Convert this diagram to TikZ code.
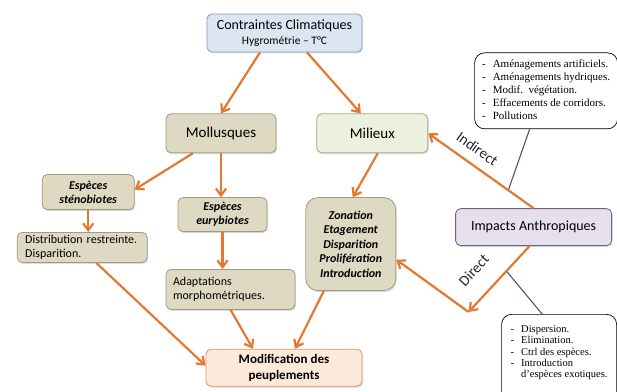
\documentclass[tikz,border=0pt]{standalone}
\usepackage{fontspec}
\setmainfont{Carlito}
\newfontfamily\notefont{Liberation Serif}
\usepackage{tikz}
\usetikzlibrary{arrows.meta,calc,positioning,shadows}

\definecolor{arrorange}{RGB}{228,120,48}
\definecolor{tanfill}{RGB}{221,217,195}
\definecolor{tandraw}{RGB}{160,155,128}
\definecolor{bluefill}{RGB}{220,230,242}
\definecolor{bluedraw}{RGB}{130,155,190}
\definecolor{greenfill}{RGB}{235,241,222}
\definecolor{greendraw}{RGB}{155,170,130}
\definecolor{lilacfill}{RGB}{229,224,236}
\definecolor{lilacdraw}{RGB}{110,100,130}
\definecolor{peachfill}{RGB}{253,233,217}
\definecolor{peachdraw}{RGB}{215,150,105}
\definecolor{calloutc}{RGB}{80,80,125}

\begin{document}
\begin{tikzpicture}[
  x=1pt, y=1pt,
  box/.style={draw, rounded corners=5pt, inner sep=2pt, align=center, line width=0.8pt,
    drop shadow={shadow xshift=1pt, shadow yshift=-1.5pt, opacity=0.25}},
  tanbox/.style={box, fill=tanfill, draw=tandraw},
  note/.style={draw, rounded corners=10pt, fill=white, line width=0.7pt, inner sep=0pt},
  arr/.style={-{Straight Barb[length=2.4mm,width=3.6mm]}, line width=2.2pt, draw=arrorange},
  link/.style={line width=1.1pt, draw=calloutc},
  lbl/.style={font=\fontsize{15pt}{17pt}\selectfont, sloped, text=black!85}
]
  \useasboundingbox (0,0) rectangle (617,391);

  \node[box, fill=bluefill, draw=bluedraw, minimum width=155pt, minimum height=38pt,
    font=\fontsize{14pt}{15pt}\selectfont] (clim) at (284.5,358)
    {Contraintes Climatiques\\{\fontsize{11.5pt}{13pt}\selectfont Hygrométrie -- T°C}};
  \node[tanbox, minimum width=110pt, minimum height=39pt, font=\fontsize{15pt}{18pt}\selectfont,
    below=61pt of clim, xshift=-63.5pt] (moll) {Mollusques};
  \node[box, fill=greenfill, draw=greendraw, minimum width=111pt, minimum height=39pt,
    font=\fontsize{15pt}{18pt}\selectfont, right=40pt of moll] (mil) {Milieux};
  \node[tanbox, minimum width=89pt, minimum height=34pt,
    font=\bfseries\itshape\fontsize{12pt}{14pt}\selectfont,
    below=44pt of moll, xshift=1.5pt] (eury) {Espèces\\eurybiotes};
  \node[tanbox, text width=115pt, inner xsep=7pt, minimum height=40pt, align=left,
    font=\fontsize{12pt}{13.5pt}\selectfont,
    below=37pt of eury, xshift=8pt] (adapt) {Adaptations\\morphométriques.};
  \node[tanbox, minimum width=92pt, minimum height=35pt,
    font=\bfseries\itshape\fontsize{12pt}{14pt}\selectfont,
    left=43pt of eury, yshift=22.5pt] (steno) {Espèces\\sténobiotes};
  \node[tanbox, text width=114pt, inner xsep=8pt, minimum height=30pt, align=left,
    font=\fontsize{12pt}{14pt}\selectfont,
    below=22pt of steno, xshift=-6pt] (dist) {Distribution restreinte.\\Disparition.};
  \node[tanbox, rounded corners=12pt, minimum width=90pt, minimum height=93pt,
    font=\bfseries\itshape\fontsize{12pt}{14.5pt}\selectfont,
    below=44pt of mil, xshift=-21.5pt] (zon)
    {Zonation\\Etagement\\Disparition\\Prolifération\\Introduction};
  \node[box, fill=lilacfill, draw=lilacdraw, minimum width=156pt, minimum height=37pt,
    font=\fontsize{14pt}{16pt}\selectfont,
    right=59pt of zon, yshift=17pt] (imp) {Impacts Anthropiques};
  \node[box, fill=peachfill, draw=peachdraw, minimum width=156pt, minimum height=37pt,
    font=\bfseries\fontsize{13pt}{16pt}\selectfont,
    below=39pt of adapt, xshift=53.5pt] (modif) {Modification des\\peuplements};

  % notes
  \node[note, minimum width=143pt, minimum height=76pt,
    font=\notefont\fontsize{11pt}{13pt}\selectfont,
    above=79pt of imp, xshift=12.5pt] (indir)
    {\begin{tabular}{@{}l@{\hspace{7pt}}l@{}}
      - & Aménagements artificiels.\\
      - & Aménagements hydriques.\\
      - & Modif.\ \ végétation.\\
      - & Effacements de corridors.\\
      - & Pollutions
    \end{tabular}};
  \node[note, minimum width=115pt, minimum height=92pt, anchor=north,
    font=\notefont\fontsize{10.5pt}{11.3pt}\selectfont]
    (dir) at ($(imp.south)+(25.5,-68)$)
    {\begin{tabular}{@{}l@{\hspace{7pt}}l@{}}
      - & Dispersion.\\
      - & Elimination.\\
      - & Ctrl des espèces.\\
      - & Introduction\\
        & d’espèces exotiques.\\[15pt]
    \end{tabular}};

  \coordinate (dvx) at ($(imp.south)+(-65,-66)$);
  \coordinate (ci) at ($(imp.north)!0.24!(mil.east)$);
  \coordinate (cd) at ($([xshift=-4pt]imp.south)!0.38!(dvx)$);

  \draw[link] (ci) -- ([xshift=-16.5pt]indir.south);
  \draw[link] (cd) -- ([xshift=-17pt]dir.north);

  \draw[arr] ([xshift=-24.5pt]clim.south) -- (moll.north);
  \draw[arr] ([xshift=22.5pt]clim.south) -- ([xshift=-11.5pt]mil.north);
  \draw[arr] ([xshift=-28pt]moll.south) -- ([yshift=2.5pt]steno.east);
  \draw[arr] (moll.south) -- (moll.south |- eury.north);
  \draw[arr] (steno.south) -- (steno.south |- dist.north);
  \draw[arr] (eury.south) -- (eury.south |- adapt.north);
  \draw[arr] ([xshift=5.5pt]mil.south) -- ([xshift=2pt]zon.north);
  \draw[arr] ([xshift=14pt]dist.south) -- ([yshift=2pt]modif.west);
  \draw[arr] (adapt.south) -- ([xshift=-31pt]modif.north);
  \draw[arr] ([xshift=-27pt]zon.south) -- ([xshift=11pt]modif.north);
  \draw[arr] (imp.north) -- node[lbl, above=6pt, pos=0.62] {Indirect} (mil.east);
  \draw[arr] ([xshift=-4pt]imp.south) -- node[lbl, above=15pt, pos=0.62] {Direct} (dvx);
  \draw[arr] (dvx) -- ([yshift=-15.5pt]zon.east);
\end{tikzpicture}
\end{document}
